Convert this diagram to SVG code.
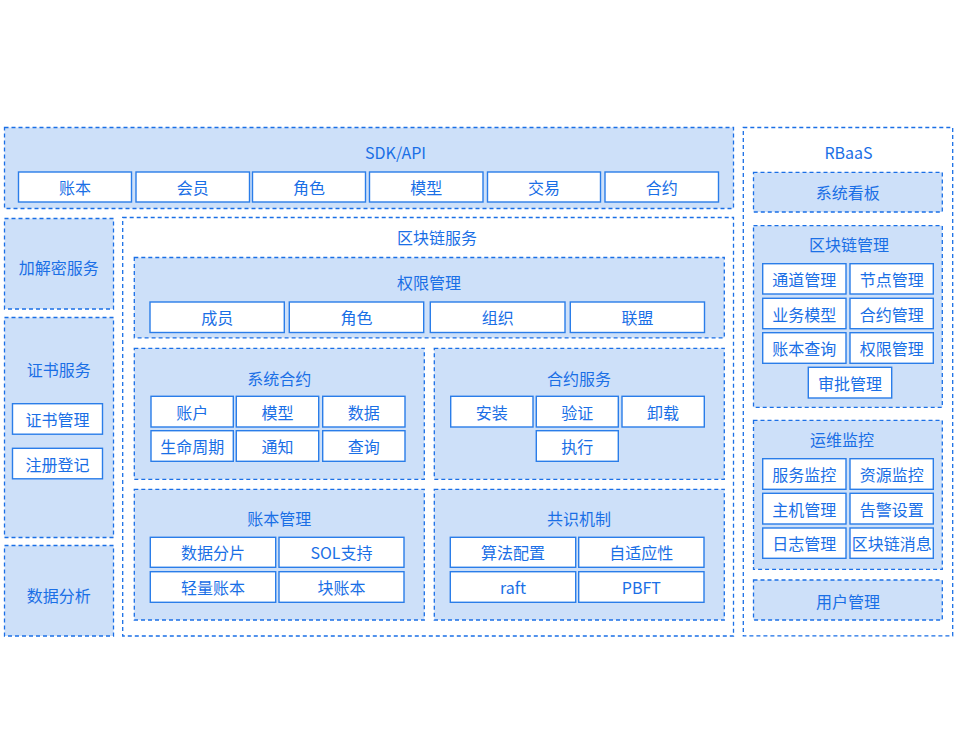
<svg xmlns="http://www.w3.org/2000/svg" width="960" height="732" viewBox="0 0 960 732">
<style>
.grp{fill:#cde0f9;stroke:#1a6fe6;stroke-width:1.3;stroke-dasharray:4 3}
.out{fill:#ffffff;stroke:#1a6fe6;stroke-width:1.3;stroke-dasharray:4 3}
.itm{fill:#ffffff;stroke:#2a7de9;stroke-width:1.4}
text{font-family:"Noto Sans CJK SC","Noto Sans",sans-serif;font-size:16px;fill:#1a6fe6;text-anchor:middle;dominant-baseline:central}
</style>
<rect width="960" height="732" fill="#ffffff"/>

<g id="sdk-api">
<rect class="grp" x="4.5" y="127.5" width="729" height="81"/>
<text x="395.5" y="152">SDK/API</text>
<g id="sdk-items">
<rect class="itm" x="18.5" y="172" width="113" height="30"/><text x="75" y="187">账本</text>
<rect class="itm" x="136" y="172" width="113.5" height="30"/><text x="192.7" y="187">会员</text>
<rect class="itm" x="252.5" y="172" width="113" height="30"/><text x="309" y="187">角色</text>
<rect class="itm" x="369.5" y="172" width="113.5" height="30"/><text x="426.2" y="187">模型</text>
<rect class="itm" x="487.5" y="172" width="113" height="30"/><text x="544" y="187">交易</text>
<rect class="itm" x="605" y="172" width="113.5" height="30"/><text x="661.7" y="187">合约</text>
</g>
</g>

<g id="crypto-service">
<rect class="grp" x="4.5" y="218.5" width="109" height="90.5"/>
<text x="58.7" y="266.5">加解密服务</text>
</g>

<g id="cert-service">
<rect class="grp" x="4.5" y="317.5" width="109" height="220"/>
<text x="58.7" y="369">证书服务</text>
<rect class="itm" x="12.5" y="403.7" width="90" height="30.5"/><text x="57.5" y="419">证书管理</text>
<rect class="itm" x="12.5" y="448.3" width="90" height="30.5"/><text x="57.5" y="463.5">注册登记</text>
</g>

<g id="data-analysis">
<rect class="grp" x="4.5" y="545.5" width="109" height="90.5"/>
<text x="58.7" y="594.5">数据分析</text>
</g>

<g id="blockchain-service">
<rect class="out" x="122.7" y="217.5" width="610.8" height="418.5"/>
<text x="437" y="237">区块链服务</text>

<g id="permission-mgmt">
<rect class="grp" x="134.3" y="257.5" width="590" height="80.3"/>
<text x="429" y="282">权限管理</text>
<rect class="itm" x="150" y="302" width="134.3" height="30.5"/><text x="217.2" y="317.3">成员</text>
<rect class="itm" x="289.3" y="302" width="134.4" height="30.5"/><text x="356.5" y="317.3">角色</text>
<rect class="itm" x="430.3" y="302" width="134.7" height="30.5"/><text x="497.7" y="317.3">组织</text>
<rect class="itm" x="570.3" y="302" width="134.2" height="30.5"/><text x="637.4" y="317.3">联盟</text>
</g>

<g id="system-contract">
<rect class="grp" x="134.3" y="348.3" width="290" height="131"/>
<text x="279.3" y="377.5">系统合约</text>
<rect class="itm" x="151" y="396.3" width="82.3" height="30.7"/><text x="192.2" y="411.7">账户</text>
<rect class="itm" x="236.3" y="396.3" width="82.4" height="30.7"/><text x="277.5" y="411.7">模型</text>
<rect class="itm" x="322.7" y="396.3" width="82.3" height="30.7"/><text x="363.8" y="411.7">数据</text>
<rect class="itm" x="151" y="430.7" width="82.3" height="30.6"/><text x="192.2" y="446">生命周期</text>
<rect class="itm" x="236.3" y="430.7" width="82.4" height="30.6"/><text x="277.5" y="446">通知</text>
<rect class="itm" x="322.7" y="430.7" width="82.3" height="30.6"/><text x="363.8" y="446">查询</text>
</g>

<g id="contract-service">
<rect class="grp" x="434.3" y="348.3" width="290" height="131"/>
<text x="579" y="377.5">合约服务</text>
<rect class="itm" x="450.7" y="396.3" width="82.3" height="30.7"/><text x="491.8" y="411.7">安装</text>
<rect class="itm" x="536.3" y="396.3" width="82" height="30.7"/><text x="577.3" y="411.7">验证</text>
<rect class="itm" x="622" y="396.3" width="82.3" height="30.7"/><text x="663.1" y="411.7">卸载</text>
<rect class="itm" x="536.3" y="430.7" width="82" height="30.6"/><text x="577.3" y="446">执行</text>
</g>

<g id="ledger-mgmt">
<rect class="grp" x="134.3" y="489.3" width="290" height="130.7"/>
<text x="279.3" y="517.5">账本管理</text>
<rect class="itm" x="150.3" y="537.3" width="125.4" height="30"/><text x="213" y="552.3">数据分片</text>
<rect class="itm" x="279" y="537.3" width="125" height="30"/><text x="341.5" y="552.3">SOL支持</text>
<rect class="itm" x="150.3" y="571.7" width="125.4" height="30.6"/><text x="213" y="587">轻量账本</text>
<rect class="itm" x="279" y="571.7" width="125" height="30.6"/><text x="341.5" y="587">块账本</text>
</g>

<g id="consensus">
<rect class="grp" x="434.3" y="489.3" width="290" height="130.7"/>
<text x="579" y="517.5">共识机制</text>
<rect class="itm" x="450.3" y="537.3" width="125.4" height="30"/><text x="513" y="552.3">算法配置</text>
<rect class="itm" x="578.7" y="537.3" width="125.3" height="30"/><text x="641.3" y="552.3">自适应性</text>
<rect class="itm" x="450.3" y="571.7" width="125.4" height="30.6"/><text x="513" y="587">raft</text>
<rect class="itm" x="578.7" y="571.7" width="125.3" height="30.6"/><text x="641.3" y="587">PBFT</text>
</g>
</g>

<g id="rbaas">
<rect class="out" x="743.3" y="127.5" width="209.4" height="508.3"/>
<text x="848.5" y="152">RBaaS</text>

<g id="dashboard">
<rect class="grp" x="753.5" y="172.3" width="188.8" height="39.7"/>
<text x="847.8" y="191.5">系统看板</text>
</g>

<g id="chain-mgmt">
<rect class="grp" x="753.5" y="225.7" width="188.8" height="181.6"/>
<text x="849" y="244">区块链管理</text>
<rect class="itm" x="762.7" y="263.7" width="83.3" height="30.3"/><text x="804.3" y="279">通道管理</text>
<rect class="itm" x="850" y="263.7" width="83.3" height="30.3"/><text x="891.7" y="279">节点管理</text>
<rect class="itm" x="762.7" y="298.3" width="83.3" height="30.4"/><text x="804.3" y="313.5">业务模型</text>
<rect class="itm" x="850" y="298.3" width="83.3" height="30.4"/><text x="891.7" y="313.5">合约管理</text>
<rect class="itm" x="762.7" y="332.7" width="83.3" height="30.6"/><text x="804.3" y="348">账本查询</text>
<rect class="itm" x="850" y="332.7" width="83.3" height="30.6"/><text x="891.7" y="348">权限管理</text>
<rect class="itm" x="808.3" y="367.3" width="83.4" height="30.7"/><text x="850" y="382.7">审批管理</text>
</g>

<g id="ops-monitor">
<rect class="grp" x="753.5" y="420.3" width="188.8" height="149"/>
<text x="842" y="439">运维监控</text>
<rect class="itm" x="762.7" y="458.7" width="83.3" height="30.6"/><text x="804.3" y="474">服务监控</text>
<rect class="itm" x="850" y="458.7" width="83.3" height="30.6"/><text x="891.7" y="474">资源监控</text>
<rect class="itm" x="762.7" y="493.3" width="83.3" height="30.7"/><text x="804.3" y="508.7">主机管理</text>
<rect class="itm" x="850" y="493.3" width="83.3" height="30.7"/><text x="891.7" y="508.7">告警设置</text>
<rect class="itm" x="762.7" y="528" width="83.3" height="30.3"/><text x="804.3" y="543.2">日志管理</text>
<rect class="itm" x="850" y="528" width="83.3" height="30.3"/><text x="891.7" y="543.2">区块链消息</text>
</g>

<g id="user-mgmt">
<rect class="grp" x="753.5" y="580" width="188.8" height="40"/>
<text x="848" y="600.5">用户管理</text>
</g>
</g>
</svg>
